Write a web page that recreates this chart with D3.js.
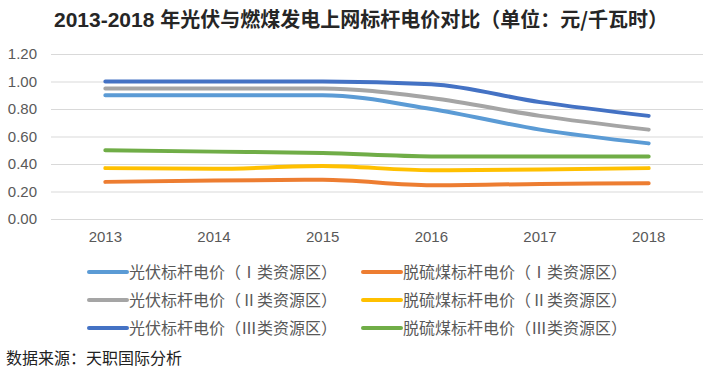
<!DOCTYPE html>
<html>
<head>
  <meta charset="UTF-8">
  <title>光伏与燃煤发电上网标杆电价对比</title>
  <script src="https://d3js.org/d3.v7.min.js"></script>
  <style>
    body { margin: 0; background: #fff; }
    svg { display: block; }
    .grid line { stroke: #d9d9d9; stroke-width: 1; }
    .grid path { display: none; }
    .axis text { fill: #595959; font-family: "Liberation Sans", Arial, sans-serif; font-size: 15px; }
    .legend text { fill: #595959; font-family: "Noto Sans CJK SC", sans-serif; font-size: 16px; }
  </style>
</head>
<body>
<svg width="721" height="371"></svg>
<script>
  // 数据
  var years = ["2013", "2014", "2015", "2016", "2017", "2018"]
  var seriesNames = [
    "光伏标杆电价（Ⅰ类资源区）",
    "脱硫煤标杆电价（Ⅰ类资源区）",
    "光伏标杆电价（Ⅱ类资源区）",
    "脱硫煤标杆电价（Ⅱ类资源区）",
    "光伏标杆电价（Ⅲ类资源区）",
    "脱硫煤标杆电价（Ⅲ类资源区）"
  ]
  var pv1 = [0.90, 0.90, 0.90, 0.80, 0.65, 0.55]
  var coal1 = [0.27, 0.28, 0.285, 0.245, 0.255, 0.26]
  var pv2 = [0.95, 0.95, 0.95, 0.88, 0.75, 0.65]
  var coal2 = [0.37, 0.365, 0.385, 0.355, 0.36, 0.37]
  var pv3 = [1.00, 1.00, 1.00, 0.98, 0.85, 0.75]
  var coal3 = [0.50, 0.49, 0.48, 0.455, 0.455, 0.455]
  var yTicks = [0, 0.2, 0.4, 0.6, 0.8, 1.0, 1.2]
  var colors = ["#5b9bd5", "#ed7d31", "#a5a5a5", "#ffc000", "#4472c4", "#70ad47"]

  var values = [pv1, coal1, pv2, coal2, pv3, coal3]
  var series = seriesNames.map(function(name, i) {
    return { name: name, color: colors[i], values: values[i] }
  })

  var svg = d3.select("svg")
  var plotLeft = 51, plotRight = 703, plotTop = 54, plotBottom = 219

  var x = d3.scaleBand().domain(years).range([plotLeft, plotRight])
  var y = d3.scaleLinear().domain([0, 1.2]).range([plotBottom, plotTop])

  // title
  var title = svg.append("text")
    .attr("x", 361)
    .attr("y", 27)
    .attr("text-anchor", "middle")
    .style("font-weight", "bold")
    .style("fill", "#262626")
  title.append("tspan")
    .style("font-family", "'Liberation Sans', Arial, sans-serif")
    .style("font-size", "21px")
    .text("2013-2018 ")
  title.append("tspan")
    .style("font-family", "'Noto Sans CJK SC', sans-serif")
    .style("font-size", "20px")
    .text("年光伏与燃煤发电上网标杆电价对比（单位：元/千瓦时）")

  // grid + y axis
  svg.append("g")
    .attr("class", "grid axis")
    .attr("transform", "translate(" + plotLeft + ",0)")
    .call(d3.axisLeft(y).tickValues(yTicks).tickFormat(d3.format(".2f")).tickSize(-(plotRight - plotLeft)).tickPadding(14))

  // x axis
  svg.append("g")
    .attr("class", "grid axis")
    .attr("transform", "translate(0," + plotBottom + ")")
    .call(d3.axisBottom(x).tickSize(0).tickPadding(12))

  // smoothed lines, like excel's "smooth line" option
  var line = d3.line()
    .curve(d3.curveMonotoneX)
    .x(function(d, i) { return x(years[i]) + x.bandwidth() / 2 })
    .y(function(d) { return y(d) })

  svg.append("g").selectAll("path")
    .data(series)
    .enter().append("path")
    .attr("d", function(d) { return line(d.values) })
    .attr("fill", "none")
    .attr("stroke", function(d) { return d.color })
    .attr("stroke-width", 4)
    .attr("stroke-linecap", "round")
    .attr("stroke-linejoin", "round")

  // legend
  var legendX = [89, 363], legendY = [272, 300, 328]
  var legend = svg.append("g").attr("class", "legend")
    .selectAll("g")
    .data(series)
    .enter().append("g")
    .attr("transform", function(d, i) {
      return "translate(" + legendX[i % 2] + "," + legendY[Math.floor(i / 2)] + ")"
    })
  legend.append("line")
    .attr("x1", 0).attr("x2", 38)
    .attr("stroke", function(d) { return d.color })
    .attr("stroke-width", 4)
    .attr("stroke-linecap", "round")
  legend.append("text")
    .attr("x", 40)
    .attr("dy", "0.35em")
    .text(function(d) { return d.name })

  // source
  svg.append("text")
    .attr("x", 6)
    .attr("y", 364)
    .style("font-family", "'Noto Sans CJK SC', sans-serif")
    .style("font-size", "16px")
    .style("fill", "#222")
    .text("数据来源：天职国际分析")
</script>
</body>
</html>
